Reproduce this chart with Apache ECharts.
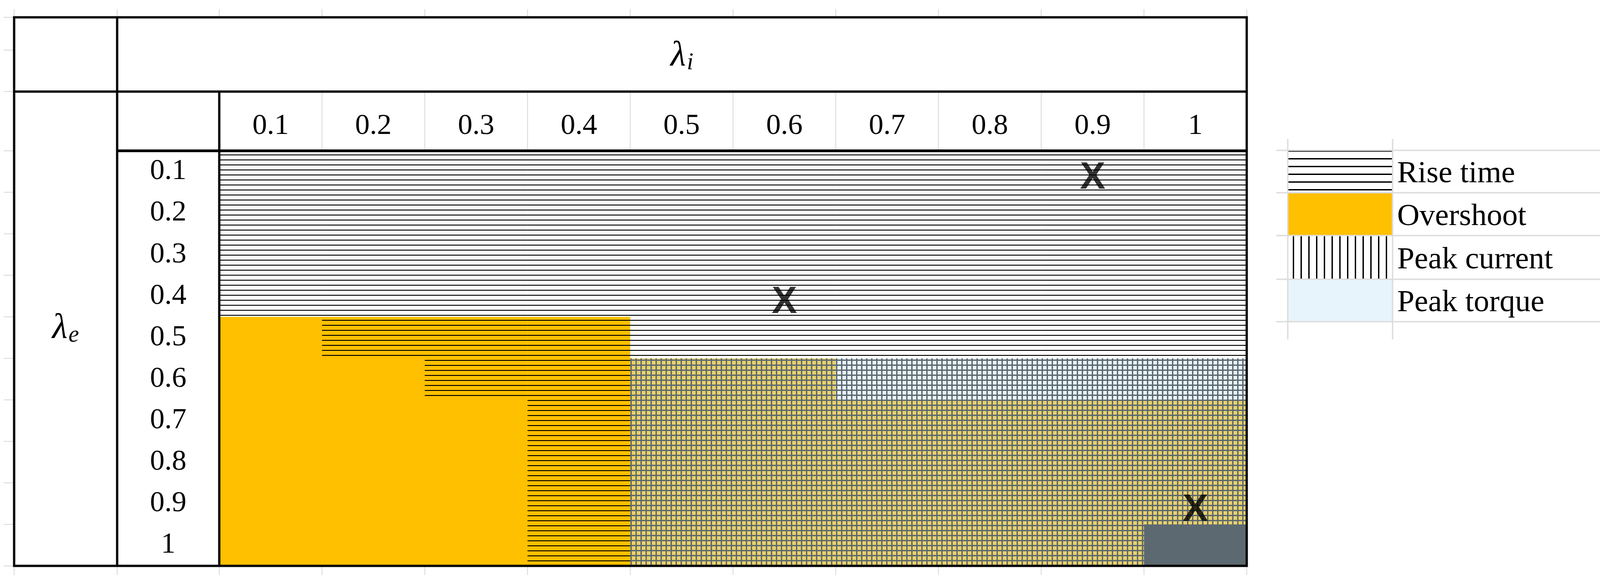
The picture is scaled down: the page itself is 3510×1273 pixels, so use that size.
<!DOCTYPE html>
<html>
<head>
<meta charset="utf-8">
<script src="https://cdn.jsdelivr.net/npm/echarts@6/dist/echarts.min.js"></script>
<style>
  html, body { margin: 0; padding: 0; background: #fff; }
  #chart { width: 3510px; height: 1273px; }
</style>
</head>
<body>
<div id="chart"></div>
<script>
// λi columns and λe rows
var xLabels = ['0.1', '0.2', '0.3', '0.4', '0.5', '0.6', '0.7', '0.8', '0.9', '1'];
var yLabels = ['0.1', '0.2', '0.3', '0.4', '0.5', '0.6', '0.7', '0.8', '0.9', '1'];

// one code per cell, row by row (λe), column by column (λi)
// R = rise time, O = overshoot, RO = rise time + overshoot,
// G = overshoot + peak current, T = peak current + peak torque, D = all
var cellRows = [
    ['R', 'R', 'R', 'R', 'R', 'R', 'R', 'R', 'R', 'R'],
    ['R', 'R', 'R', 'R', 'R', 'R', 'R', 'R', 'R', 'R'],
    ['R', 'R', 'R', 'R', 'R', 'R', 'R', 'R', 'R', 'R'],
    ['R', 'R', 'R', 'R', 'R', 'R', 'R', 'R', 'R', 'R'],
    ['O', 'RO', 'RO', 'RO', 'R', 'R', 'R', 'R', 'R', 'R'],
    ['O', 'O', 'RO', 'RO', 'G', 'G', 'T', 'T', 'T', 'T'],
    ['O', 'O', 'O', 'RO', 'G', 'G', 'G', 'G', 'G', 'G'],
    ['O', 'O', 'O', 'RO', 'G', 'G', 'G', 'G', 'G', 'G'],
    ['O', 'O', 'O', 'RO', 'G', 'G', 'G', 'G', 'G', 'G'],
    ['O', 'O', 'O', 'RO', 'G', 'G', 'G', 'G', 'G', 'D']
];

// cells marked with X : [λi, λe]
var xMarks = [['0.9', '0.1'], ['0.6', '0.4'], ['1', '0.9']];

var legendNames = ['Rise time', 'Overshoot', 'Peak current', 'Peak torque'];

function makePattern(bg, draw) {
    var c = document.createElement('canvas');
    c.width = 11; c.height = 11;
    var ctx = c.getContext('2d');
    ctx.fillStyle = bg;
    ctx.fillRect(0, 0, 11, 11);
    draw(ctx);
    return { image: c, repeat: 'repeat' };
}
function hLine(color, w) {
    return function (ctx) { ctx.fillStyle = color; ctx.fillRect(0, 9, 11, w); };
}
function gridLines(ctx) {
    ctx.fillStyle = '#5d6970';
    ctx.fillRect(0, 8, 11, 3);
    ctx.fillRect(8, 0, 3, 11);
}

var fills = {
    R: makePattern('#ffffff', hLine('#000000', 2)),
    O: '#ffc000',
    RO: makePattern('#ffc000', hLine('#000000', 2)),
    G: makePattern('#e8d16b', gridLines),
    T: makePattern('#e8f4fc', gridLines),
    D: '#5d6970'
};

var cellData = [];
cellRows.forEach(function (row, yi) {
    row.forEach(function (code, xi) { cellData.push([xi, yi, code]); });
});

// table frame geometry
var L = 31, T = 38, C1 = 257, C2 = 481, R = 2735, H1 = 201, H2 = 331, B = 1242;
var colW = (R - C2) / 10;

var graphics = [];
function line(x1, y1, x2, y2, w, color) {
    graphics.push({ type: 'line', z: 100, shape: { x1: x1, y1: y1, x2: x2, y2: y2 },
        style: { stroke: color, lineWidth: w } });
}
// faint spreadsheet gridlines
var grey = '#dcdcdc';
for (var i = 1; i < 10; i++) line(C2 + colW * i, H1, C2 + colW * i, H2, 2, grey);
[L, C1, C2].concat(xLabels.map(function (d, i) { return C2 + colW * (i + 1); })).forEach(function (x) {
    line(x, 20, x, T, 2, grey); line(x, B, x, 1262, 2, grey);
});
[T, 110, H1, H2].forEach(function (y) { line(8, y, L, y, 2, grey); });
for (var j = 0; j <= 10; j++) line(8, H2 + 91.1 * j, L, H2 + 91.1 * j, 2, grey);
// legend gridlines
var legY = [330, 423, 517, 613, 706];
legY.forEach(function (y) { line(2800, y, 3510, y, 3, grey); });
[2825, 3055].forEach(function (x) { line(x, 305, x, 745, 3, grey); });

// thick table borders
var bk = '#000';
graphics.push({ type: 'rect', z: 101, shape: { x: L, y: T, width: R - L, height: B - T },
    style: { fill: null, stroke: bk, lineWidth: 5 } });
line(C1, T, C1, B, 5, bk);
line(L, H1, R, H1, 5, bk);
line(C2, H1, C2, B, 5, bk);
line(C1, H2, R, H2, 6, bk);

// legend swatches
var legPatterns = [null, '#ffc000', null, '#e8f4fc'];
(function () {
    var c = document.createElement('canvas'); c.width = 17; c.height = 17;
    var ctx = c.getContext('2d'); ctx.fillStyle = '#fff'; ctx.fillRect(0, 0, 17, 17);
    ctx.fillStyle = '#000'; ctx.fillRect(0, 0, 17, 3);
    legPatterns[0] = { image: c, repeat: 'repeat' };
    var v = document.createElement('canvas'); v.width = 17; v.height = 17;
    var vx = v.getContext('2d'); vx.fillStyle = '#fff'; vx.fillRect(0, 0, 17, 17);
    vx.fillStyle = '#000'; vx.fillRect(11, 0, 3, 17);
    legPatterns[2] = { image: v, repeat: 'repeat' };
})();
legendNames.forEach(function (name, k) {
    var y0 = legY[k], y1 = legY[k + 1];
    graphics.push({ type: 'rect', z: 50, x: 2825, y: y0,
        shape: { x: 0, y: 0, width: 230, height: y1 - y0 },
        style: { fill: legPatterns[k] } });
    graphics.push({ type: 'text', z: 60, x: 3065, y: (y0 + y1) / 2 + 6,
        style: { text: name, font: '68px "Liberation Serif"', fill: '#000', verticalAlign: 'middle' } });
});

// λ headers
function lambda(x, y, sub) {
    graphics.push({ type: 'text', z: 60, x: x, y: y,
        style: { text: '{l|λ}{s|' + sub + '}', align: 'center', verticalAlign: 'middle',
            rich: { l: { font: 'italic 78px "Liberation Serif"', fill: '#000' },
                    s: { font: 'italic 52px "Liberation Serif"', fill: '#000', padding: [30, 0, 0, 2] } } } });
}
lambda((C1 + R) / 2, (T + H1) / 2 + 4, 'i');
lambda((L + C1) / 2, (H1 + B) / 2, 'e');

var chart = echarts.init(document.getElementById('chart'));
chart.setOption({
    animation: false,
    grid: { left: C2, top: H2, width: R - C2, height: B - H2 },
    xAxis: {
        type: 'category', position: 'top', data: xLabels,
        axisLine: { show: false }, axisTick: { show: false }, splitLine: { show: false },
        axisLabel: { margin: 22, fontFamily: 'Liberation Serif', fontSize: 64, color: '#000' }
    },
    yAxis: {
        type: 'category', inverse: true, data: yLabels,
        axisLine: { show: false }, axisTick: { show: false }, splitLine: { show: false },
        axisLabel: { margin: 112, align: 'center', verticalAlign: 'middle', padding: [14, 0, 0, 0],
            fontFamily: 'Liberation Serif', fontSize: 64, color: '#000' }
    },
    series: [{
        type: 'custom',
        data: cellData,
        renderItem: function (params, api) {
            var p0 = api.coord([api.value(0), api.value(1)]);
            var s = api.size([1, 1]);
            return {
                type: 'rect',
                shape: { x: p0[0] - s[0] / 2, y: p0[1] - s[1] / 2, width: s[0] + 0.5, height: s[1] + 0.5 },
                style: { fill: fills[cellRows[api.value(1)][api.value(0)]] }
            };
        }
    }, {
        type: 'scatter',
        symbolSize: 0,
        data: xMarks,
        z: 10,
        label: { show: true, formatter: 'X', position: 'inside', offset: [0, 14],
            fontFamily: 'Liberation Sans', fontWeight: 'bold', fontSize: 84, color: '#000' }
    }],
    graphic: graphics
});
</script>
</body>
</html>
